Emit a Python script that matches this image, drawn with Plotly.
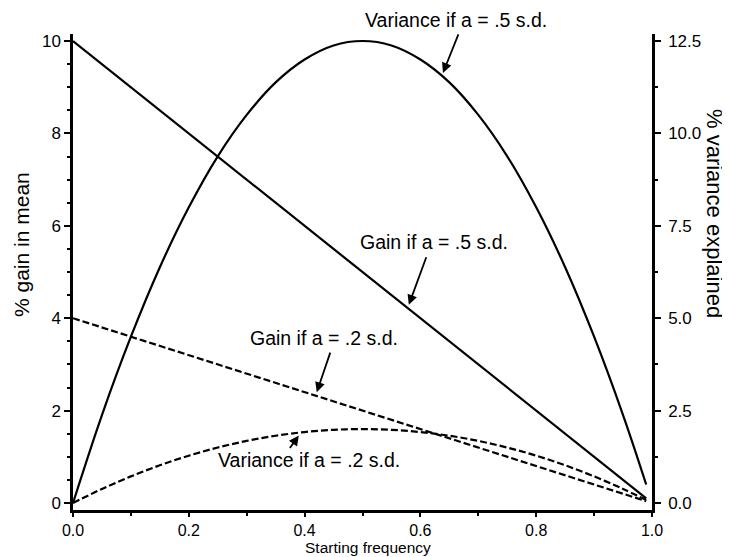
import plotly.graph_objects as go

# Starting frequency (p)
freq = [0.0, 0.05, 0.1, 0.15, 0.2, 0.25, 0.3, 0.35, 0.4, 0.45, 0.5,
        0.55, 0.6, 0.65, 0.7, 0.75, 0.8, 0.85, 0.9, 0.95, 0.99]

# % gain in mean (left axis)
gain_a5 = [10.0, 9.5, 9.0, 8.5, 8.0, 7.5, 7.0, 6.5, 6.0, 5.5, 5.0,
           4.5, 4.0, 3.5, 3.0, 2.5, 2.0, 1.5, 1.0, 0.5, 0.1]
gain_a2 = [4.0, 3.8, 3.6, 3.4, 3.2, 3.0, 2.8, 2.6, 2.4, 2.2, 2.0,
           1.8, 1.6, 1.4, 1.2, 1.0, 0.8, 0.6, 0.4, 0.2, 0.04]

# % variance explained (right axis)
var_a5 = [0.0, 2.38, 4.5, 6.38, 8.0, 9.38, 10.5, 11.38, 12.0, 12.38, 12.5,
          12.38, 12.0, 11.38, 10.5, 9.38, 8.0, 6.38, 4.5, 2.38, 0.5]
var_a2 = [0.0, 0.38, 0.72, 1.02, 1.28, 1.5, 1.68, 1.82, 1.92, 1.98, 2.0,
          1.98, 1.92, 1.82, 1.68, 1.5, 1.28, 1.02, 0.72, 0.38, 0.08]

x_ticks = [0.0, 0.2, 0.4, 0.6, 0.8, 1.0]
x_tick_text = ["0.0", "0.2", "0.4", "0.6", "0.8", "1.0"]
left_ticks = [0, 2, 4, 6, 8, 10]
right_ticks = [0.0, 2.5, 5.0, 7.5, 10.0, 12.5]
right_tick_text = ["0.0", "2.5", "5.0", "7.5", "10.0", "12.5"]

# curve labels and their arrow tips (left-axis units)
label_text = ["Variance if a = .5 s.d.", "Gain if a = .5 s.d.",
              "Gain if a = .2 s.d.", "Variance if a = .2 s.d."]
tip_x = [0.639, 0.580, 0.421, 0.390]
tip_y = [9.31, 4.29, 2.40, 1.46]

FONT = "Liberation Sans, Arial, sans-serif"
OFF = 8                      # page body margin of the browser
W, H = 730 - OFF, 557 - OFF  # figure fits the window
L, R, T, B = 65, 78, 26, 47
PW, PH = W - L - R, H - T - B


def px(xw):
    """window pixel x -> paper x"""
    return (xw - OFF - L) / PW


def py(yw):
    """window pixel y -> paper y"""
    return (H - B - (yw - OFF)) / PH


fig = go.Figure()
fig.add_trace(go.Scatter(x=freq, y=gain_a5, mode="lines",
                         line=dict(color="black", width=2.2), yaxis="y"))
fig.add_trace(go.Scatter(x=freq, y=gain_a2, mode="lines",
                         line=dict(color="black", width=2.2, dash="7px,3px"), yaxis="y"))
fig.add_trace(go.Scatter(x=freq, y=var_a5, mode="lines",
                         line=dict(color="black", width=2.2, shape="spline"), yaxis="y2"))
fig.add_trace(go.Scatter(x=freq, y=var_a2, mode="lines",
                         line=dict(color="black", width=2.2, dash="7px,3px", shape="spline"),
                         yaxis="y2"))

y_lo, y_hi = -0.1515, 10.152

axis_common = dict(showgrid=False, zeroline=False, showline=True, linecolor="black",
                   linewidth=2.5, ticks="outside", tickcolor="black", tickwidth=2)

fig.update_layout(
    width=W, height=H,
    margin=dict(l=L, r=R, t=T, b=B),
    paper_bgcolor="white", plot_bgcolor="white",
    showlegend=False,
    xaxis=dict(range=[0, 1], tickvals=x_ticks, ticktext=x_tick_text, ticklabelstandoff=0,
               ticklen=4, tickfont=dict(family=FONT, size=16, color="black"),
               minor=dict(dtick=0.1, ticks="outside", ticklen=3, tickwidth=1.5, tickcolor="black"),
               **axis_common),
    yaxis=dict(range=[y_lo, y_hi], tickvals=left_ticks, ticklabelstandoff=0, ticklen=6,
               tickfont=dict(family=FONT, size=17, color="black"),
               minor=dict(dtick=0.5, ticks="outside", ticklen=3, tickwidth=1.5, tickcolor="black"),
               **axis_common),
    yaxis2=dict(range=[y_lo * 1.25, y_hi * 1.25], tickvals=right_ticks, ticktext=right_tick_text,
                overlaying="y", side="right", ticklabelstandoff=4, ticklen=6,
                tickfont=dict(family=FONT, size=17, color="black"),
                minor=dict(dtick=1.25, ticks="outside", ticklen=3, tickwidth=1.5, tickcolor="black"),
                **axis_common),
)

annots = []
# axis titles (window pixel positions)
annots.append(dict(text="% gain in mean", x=px(21), y=py(245), xref="paper", yref="paper",
                   xanchor="center", yanchor="middle",
                   showarrow=False, textangle=-90, font=dict(family=FONT, size=21, color="black")))
annots.append(dict(text="% variance explained", x=px(715), y=py(213), xref="paper", yref="paper",
                   xanchor="center", yanchor="middle",
                   showarrow=False, textangle=90, font=dict(family=FONT, size=22, color="black")))
annots.append(dict(text="Starting frequency", x=px(368), y=py(547.5), xref="paper", yref="paper",
                   xanchor="center", yanchor="middle",
                   showarrow=False, font=dict(family=FONT, size=15.5, color="black")))

# label text: left edge and centre (window pixels)
label_left = [363, 358, 248, 216]
label_cy = [20, 242, 338, 460]
# arrow tail offsets from tip (pixels)
arrow_dx = [16, 18, 14, -10]
arrow_dy = [-40, -49, -41, 14]

lfont = dict(family=FONT, size=19.5, color="black")
for i in range(4):
    annots.append(dict(text=label_text[i], x=px(label_left[i]), y=py(label_cy[i]),
                       xref="paper", yref="paper", xanchor="left", yanchor="middle",
                       showarrow=False, font=lfont))
    annots.append(dict(text="", x=tip_x[i], y=tip_y[i], xref="x", yref="y",
                       ax=arrow_dx[i], ay=arrow_dy[i], showarrow=True, arrowhead=2,
                       arrowsize=1.1, arrowwidth=1.8, arrowcolor="black"))

fig.update_layout(annotations=annots)
fig.write_html("out.html")
